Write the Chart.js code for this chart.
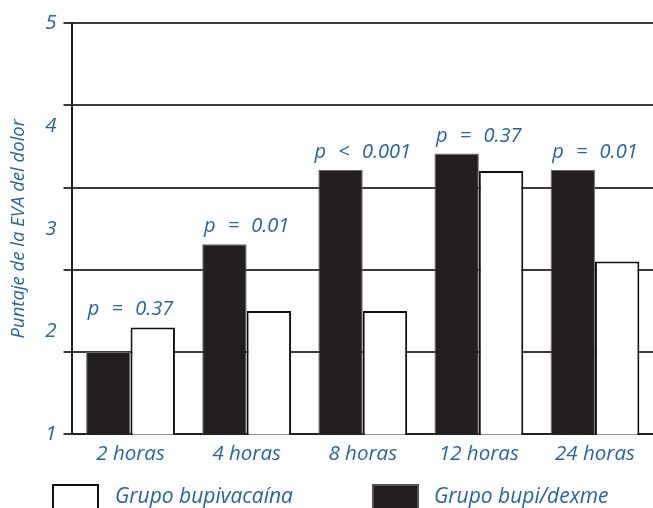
<!DOCTYPE html>
<html><head><meta charset="utf-8">
<script src="https://cdn.jsdelivr.net/npm/chart.js@4"></script>
<style>html,body{margin:0;padding:0;background:#fff;overflow:hidden}</style>
</head><body>
<canvas id="c" width="653" height="508"></canvas>
<script>
const categories = ['2 horas', '4 horas', '8 horas', '12 horas', '24 horas'];
const dexmeValues = [1.8, 2.85, 3.57, 3.73, 3.57];
const bupiValues = [2.04, 2.2, 2.2, 3.56, 2.68];
const pLabels = ['p = 0.37', 'p = 0.01', 'p < 0.001', 'p = 0.37', 'p = 0.01'];
const seriesNames = ['Grupo bupi/dexme', 'Grupo bupivacaína'];
const yTickLabels = [1, 2, 3, 4, 5];
const gridValues = [1, 1.8, 2.6, 3.4, 4.2, 5];
const yTitle = 'Puntaje de la EVA del dolor';

const BLUE = '#2265ae';
const FONT = "'Open Sans', sans-serif";
const near = (a, b) => Math.abs(a - b) < 1e-6;
const isGrid = v => gridValues.some(g => near(g, v));
const isLabel = v => yTickLabels.some(g => near(g, v));

const pLabelPlugin = {
  id: 'pLabels',
  afterDatasetsDraw(chart) {
    const {ctx, scales: {x, y}} = chart;
    ctx.save();
    ctx.font = 'italic 20px ' + FONT;
    ctx.fillStyle = BLUE;
    ctx.textAlign = 'center';
    ctx.textBaseline = 'alphabetic';
    if ('wordSpacing' in ctx) ctx.wordSpacing = '7px';
    pLabels.forEach((t, i) => {
      const top = Math.max(dexmeValues[i], bupiValues[i]);
      ctx.fillText(t, x.getPixelForValue(i), y.getPixelForValue(top) - 12);
    });
    ctx.restore();
  }
};

const legendPlugin = {
  id: 'customLegend',
  afterDraw(chart) {
    const {ctx} = chart;
    const ds = chart.data.datasets;
    const order = [1, 0];
    const slots = [{bx: 53, tx: 115}, {bx: 373, tx: 434}];
    ctx.save();
    order.forEach((di, k) => {
      const d = ds[di], s = slots[k];
      ctx.fillStyle = d.backgroundColor;
      ctx.fillRect(s.bx, 485, 45, 26);
      ctx.lineWidth = 2;
      ctx.strokeStyle = di === 1 ? '#111' : '#555';
      ctx.strokeRect(s.bx, 485, 45, 26);
      ctx.font = 'italic 21px ' + FONT;
      ctx.fillStyle = BLUE;
      ctx.textAlign = 'left';
      ctx.textBaseline = 'middle';
      ctx.fillText(d.label, s.tx, 497);
    });
    ctx.restore();
  }
};

new Chart(document.getElementById('c'), {
  type: 'bar',
  data: {
    labels: categories,
    datasets: [
      {label: seriesNames[0], data: dexmeValues, backgroundColor: '#231f20', borderColor: '#6a6a6a', borderWidth: 1},
      {label: seriesNames[1], data: bupiValues, backgroundColor: '#ffffff', borderColor: '#111111', borderWidth: 2}
    ]
  },
  options: {
    responsive: false,
    animation: false,
    devicePixelRatio: 1,
    layout: {padding: {top: 23, right: 0, bottom: 35, left: 0}},
    datasets: {bar: {categoryPercentage: 0.765, barPercentage: 1.0}},
    plugins: {legend: {display: false}, tooltip: {enabled: false}},
    scales: {
      x: {
        grid: {drawOnChartArea: false, drawTicks: false},
        border: {display: true, color: '#222', width: 2},
        ticks: {color: BLUE, font: {family: FONT, size: 20.5, style: 'italic'}, padding: 7}
      },
      y: {
        min: 1, max: 5,
        afterBuildTicks: axis => {
          const vals = Array.from(new Set([...yTickLabels, ...gridValues])).sort((a, b) => a - b);
          axis.ticks = vals.map(v => ({value: v}));
        },
        ticks: {
          autoSkip: false,
          callback: v => isLabel(v) ? String(v) : '',
          color: BLUE,
          font: {family: FONT, size: 20.5, style: 'italic'},
          padding: 7
        },
        grid: {
          color: c => isGrid(c.tick.value) ? '#3a3a3a' : 'rgba(0,0,0,0)',
          tickColor: c => isGrid(c.tick.value) ? '#3a3a3a' : 'rgba(0,0,0,0)',
          lineWidth: 2,
          tickLength: 9
        },
        border: {display: true, color: '#222', width: 2},
        title: {
          display: true, text: yTitle, color: BLUE,
          font: {family: FONT, size: 18.5, style: 'italic'},
          padding: {top: 8, bottom: 8}
        }
      }
    }
  },
  plugins: [pLabelPlugin, legendPlugin]
});
</script>
</body></html>
